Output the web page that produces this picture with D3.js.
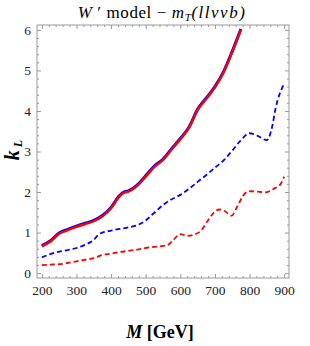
<!DOCTYPE html>
<html>
<head>
<meta charset="utf-8">
<script src="https://cdn.jsdelivr.net/npm/d3@7"></script>
<style>
  body { margin: 0; background: #fff; }
  svg text { font-family: "Liberation Serif", "DejaVu Serif", serif !important; }
</style>
</head>
<body>
<div class="chart"></div>
<script>
// masses (GeV) and k_L limits
const massSolid = [200, 225, 250, 275, 300, 325, 350, 375, 400, 425, 440, 450, 475, 500, 525, 550, 575, 600, 625, 650, 675, 700, 725, 750, 775];
const redSolid  = [0.66, 0.78, 0.97, 1.06, 1.14, 1.21, 1.28, 1.40, 1.60, 1.90, 1.99, 2.01, 2.15, 2.38, 2.62, 2.79, 3.05, 3.30, 3.58, 4.02, 4.30, 4.58, 4.95, 5.45, 6.00];
const blueSolid = [0.68, 0.80, 0.99, 1.08, 1.16, 1.23, 1.30, 1.42, 1.62, 1.92, 2.01, 2.03, 2.17, 2.40, 2.64, 2.81, 3.07, 3.32, 3.60, 4.04, 4.32, 4.60, 4.97, 5.47, 6.02];

const massBlueDash = [200, 225, 250, 275, 300, 325, 350, 365, 375, 400, 425, 450, 475, 500, 525, 550, 575, 600, 625, 650, 675, 700, 725, 750, 775, 800, 825, 850, 865, 875, 900];
const blueDash     = [0.39, 0.47, 0.53, 0.57, 0.62, 0.70, 0.82, 0.96, 1.00, 1.05, 1.09, 1.13, 1.18, 1.30, 1.49, 1.68, 1.82, 1.93, 2.08, 2.25, 2.42, 2.60, 2.78, 3.02, 3.28, 3.45, 3.38, 3.28, 3.60, 4.05, 4.68];

const massRedDash = [200, 225, 250, 275, 300, 325, 350, 375, 400, 425, 450, 475, 500, 525, 550, 565, 580, 600, 620, 640, 660, 680, 700, 715, 730, 748, 765, 785, 800, 825, 845, 870, 890, 900];
const redDash     = [0.20, 0.21, 0.22, 0.25, 0.29, 0.33, 0.37, 0.45, 0.48, 0.52, 0.55, 0.58, 0.62, 0.65, 0.67, 0.70, 0.82, 0.96, 0.92, 0.95, 1.05, 1.30, 1.52, 1.57, 1.52, 1.42, 1.65, 1.95, 2.02, 2.01, 1.99, 2.08, 2.20, 2.38];

const xTicks = [200, 300, 400, 500, 600, 700, 800, 900];
const yTicks = [0, 1, 2, 3, 4, 5, 6];

const w = 310;
const h = 346;
const margin = { top: 25, bottom: 68, left: 37, right: 21 };
const width = w - margin.left - margin.right;
const height = h - margin.top - margin.bottom;
const serif = "'Liberation Serif', 'DejaVu Serif', serif";

const svg = d3.select(".chart")
  .append("svg")
  .attr("width", w)
  .attr("height", h);

const g = svg.append("g")
  .attr("transform", `translate(${margin.left},${margin.top})`);

const x = d3.scaleLinear().domain([186, 914]).range([0, width]);
const y = d3.scaleLinear().domain([-0.12, 6.12]).range([height, 0]);

const xMinor = d3.range(200, 901, 20).filter(d => d % 100 !== 0);
const yMinor = d3.range(0, 6.01, 0.2).map(d => +d.toFixed(1)).filter(d => d % 1 !== 0);

const frameColor = "#9a9a9a";

function styleAxis(sel) {
  sel.attr("font-family", serif);
  sel.select(".domain").remove();
  sel.selectAll(".tick line").attr("stroke", frameColor);
  sel.selectAll(".tick text")
    .attr("fill", "#222")
    .style("font-family", serif)
    .style("font-size", "13.5px");
}

// bottom
g.append("g").attr("transform", `translate(0,${height})`)
  .call(d3.axisBottom(x).tickValues(xTicks).tickSize(-4).tickPadding(7).tickFormat(d3.format("d")))
  .call(styleAxis);
g.append("g").attr("transform", `translate(0,${height})`)
  .call(d3.axisBottom(x).tickValues(xMinor).tickSize(-2).tickFormat(""))
  .call(styleAxis);
// top
g.append("g")
  .call(d3.axisTop(x).tickValues(xTicks).tickSize(-4).tickFormat(""))
  .call(styleAxis);
g.append("g")
  .call(d3.axisTop(x).tickValues(xMinor).tickSize(-2).tickFormat(""))
  .call(styleAxis);
// left
g.append("g")
  .call(d3.axisLeft(y).tickValues(yTicks).tickSize(-4).tickPadding(6).tickFormat(d3.format("d")))
  .call(styleAxis);
g.append("g")
  .call(d3.axisLeft(y).tickValues(yMinor).tickSize(-2).tickFormat(""))
  .call(styleAxis);
// right
g.append("g").attr("transform", `translate(${width},0)`)
  .call(d3.axisRight(y).tickValues(yTicks).tickSize(-4).tickFormat(""))
  .call(styleAxis);
g.append("g").attr("transform", `translate(${width},0)`)
  .call(d3.axisRight(y).tickValues(yMinor).tickSize(-2).tickFormat(""))
  .call(styleAxis);

g.append("rect")
  .attr("width", width)
  .attr("height", height)
  .attr("fill", "none")
  .attr("stroke", frameColor)
  .attr("stroke-width", 1);

const line = d3.line()
  .x(d => x(d[0]))
  .y(d => y(d[1]))
  .curve(d3.curveMonotoneX);

const series = [
  { m: massRedDash, k: redDash, color: "#f00", width: 1.8, dash: "5,3" },
  { m: massBlueDash, k: blueDash, color: "#00f", width: 1.8, dash: "5,3" },
  { m: massSolid, k: blueSolid, color: "#00f", width: 3, dash: null },
  { m: massSolid, k: redSolid, color: "#f00", width: 2.4, dash: null }
];

g.selectAll(".curve")
  .data(series)
  .enter()
    .append("path")
    .attr("class", "curve")
    .attr("fill", "none")
    .attr("stroke", d => d.color)
    .attr("stroke-width", d => d.width)
    .attr("stroke-dasharray", d => d.dash)
    .attr("d", d => line(d.m.map((m, i) => [m, d.k[i]])));

// title
const title = svg.append("text")
  .attr("x", 162)
  .attr("y", 18)
  .attr("text-anchor", "middle")
  .style("font-family", serif)
  .style("font-size", "17px")
  .style("letter-spacing", "0.6px");
title.append("tspan").style("font-style", "italic").text("W");
title.append("tspan").text(" ′ model  −  ");
title.append("tspan").style("font-style", "italic").text("m");
title.append("tspan").style("font-style", "italic").style("font-size", "11px").attr("dy", 3).text("T");
title.append("tspan").style("font-style", "italic").style("letter-spacing", "1.5px").attr("dy", -3).text("(llννb)");

// y label
const yLabel = svg.append("text")
  .attr("transform", "translate(19,150) rotate(-90)")
  .attr("text-anchor", "middle")
  .style("font-family", serif)
  .style("font-size", "20px")
  .style("font-weight", "bold")
  .style("font-style", "italic");
yLabel.append("tspan").text("k");
yLabel.append("tspan").attr("dy", 3).style("font-size", "12px").text(" L");

// x label
const xLabel = svg.append("text")
  .attr("x", 160)
  .attr("y", 338)
  .attr("text-anchor", "middle")
  .style("font-family", serif)
  .style("font-size", "18px")
  .style("font-weight", "bold");
xLabel.append("tspan").style("font-style", "italic").text("M");
xLabel.append("tspan").text(" [GeV]");
</script>
</body>
</html>
